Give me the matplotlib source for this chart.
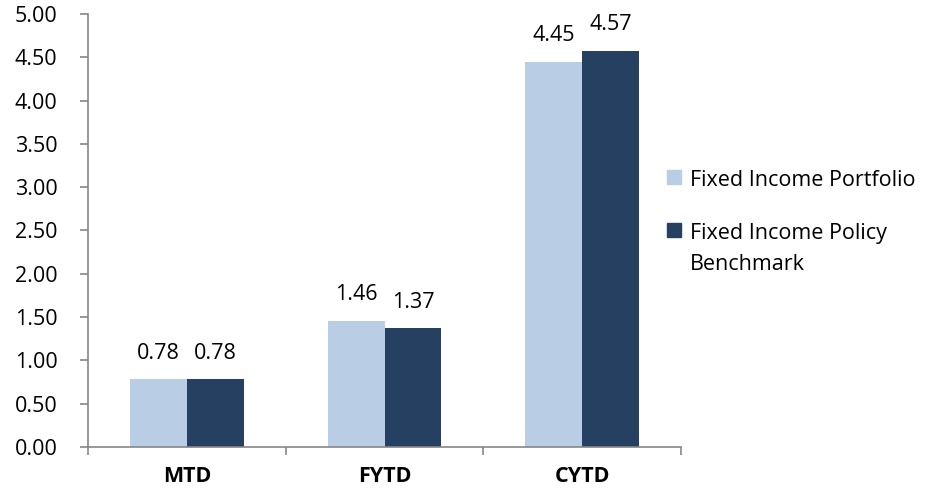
import matplotlib.pyplot as plt
from matplotlib.patches import Rectangle
import numpy as np

plt.rcParams['font.family'] = ['Open Sans', 'DejaVu Sans']

# data
periods = ['MTD', 'FYTD', 'CYTD']
portfolio = [0.78, 1.46, 4.45]
benchmark = [0.78, 1.37, 4.57]
series_names = ['Fixed Income Portfolio', 'Fixed Income Policy\nBenchmark']

light = '#B9CDE5'
dark = '#254061'
axis_grey = '#868686'
fs = 15.5

fig = plt.figure(figsize=(9.32, 4.98), dpi=100)
ax = fig.add_axes([88 / 932, 1 - 447 / 498, (681 - 88) / 932, (447 - 14) / 498])

x = np.arange(len(periods))
w = 0.288
b1 = ax.bar(x - w / 2, portfolio, w, color=light, label=series_names[0])
b2 = ax.bar(x + w / 2, benchmark, w, color=dark, label=series_names[1])

for bars, vals in ((b1, portfolio), (b2, benchmark)):
    for rect, v in zip(bars, vals):
        ax.annotate(f'{v:.2f}', (rect.get_x() + rect.get_width() / 2, v),
                    xytext=(0, 15), textcoords='offset points',
                    ha='center', va='baseline', fontsize=fs)

ax.set_xlim(-0.5, 2.5)
ax.set_ylim(0, 5)
ax.set_yticks(np.arange(0, 5.01, 0.5))
ax.set_yticklabels([f'{t:.2f}' for t in np.arange(0, 5.01, 0.5)], fontsize=fs)
ax.set_xticks(x)
ax.set_xticklabels(periods, fontsize=fs, fontweight='bold')
ax.set_xticks([-0.5, 0.5, 1.5, 2.5], minor=True)
ax.tick_params(axis='x', which='major', length=0, pad=14)
ax.tick_params(axis='x', which='minor', length=6, width=1.2, color=axis_grey)
ax.tick_params(axis='y', length=6, width=1.2, color=axis_grey, pad=16)

for s in ('top', 'right'):
    ax.spines[s].set_visible(False)
for s in ('left', 'bottom'):
    ax.spines[s].set_color(axis_grey)
    ax.spines[s].set_linewidth(1.2)

# legend drawn by hand so the square sits on the first text line
legend_rows = [(177, light, series_names[0]), (230, dark, series_names[1])]
for yc, col, name in legend_rows:
    fig.patches.append(Rectangle((667 / 932, 1 - (yc + 7) / 498), 14 / 932, 14 / 498,
                                 transform=fig.transFigure, color=col))
    fig.text(690 / 932, 1 - (yc - 7) / 498, name, fontsize=fs, va='top', ha='left',
             linespacing=1.6)

fig.savefig('out.png', dpi=100)
